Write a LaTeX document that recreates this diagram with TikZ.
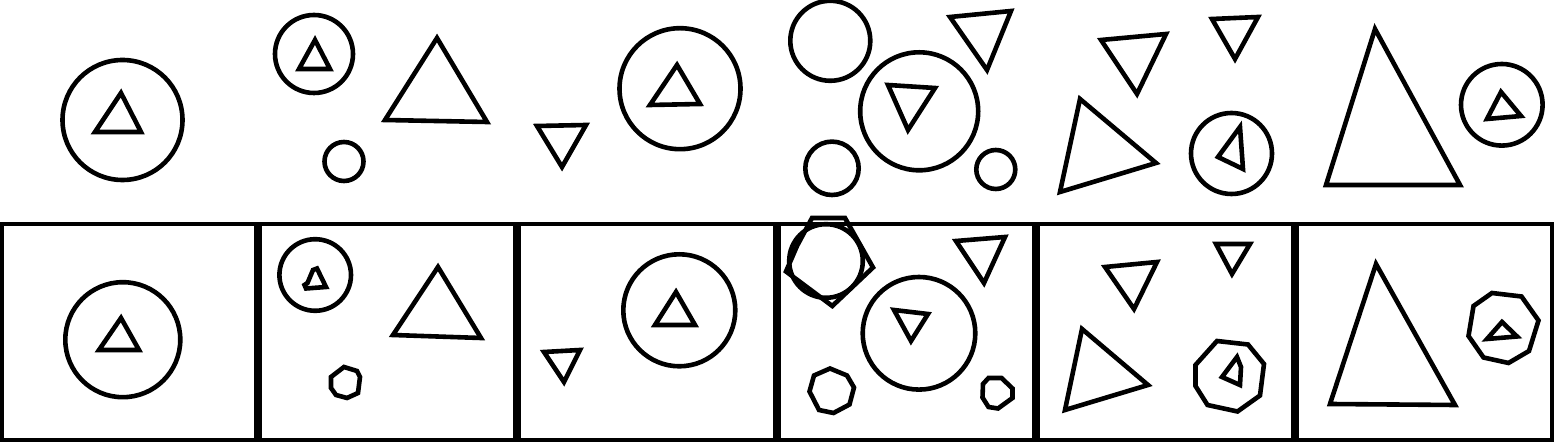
\documentclass[tikz,border=0pt]{standalone}
\usepackage{tikz}
\begin{document}
\begin{tikzpicture}[x=0.5pt,y=-0.5pt,line join=miter,
  fig/.style={line width=2.3pt},
  panel/.style={line width=1.8pt}]
\useasboundingbox (0,0) rectangle (1554,442);
% top row
\draw[fig] (122.5,120) circle[radius=60];
\draw[fig] (121,93) -- (95,132) -- (141,132) -- cycle;
\draw[fig] (314,54) circle[radius=39];
\draw[fig] (315,40) -- (299,69) -- (330,69) -- cycle;
\draw[fig] (437,38) -- (385,120) -- (487,122) -- cycle;
\draw[fig] (344,161.5) circle[radius=19.5];
\draw[fig] (537,126) -- (586,125) -- (562,167) -- cycle;
\draw[fig] (680,88.7) circle[radius=60.5];
\draw[fig] (677,65) -- (650,105) -- (700,104) -- cycle;
\draw[fig] (830.3,40.8) circle[radius=40];
\draw[fig] (950,17) -- (1011,11) -- (987,70) -- cycle;
\draw[fig] (919.2,111.3) circle[radius=59];
\draw[fig] (888,85) -- (935,88) -- (908,130) -- cycle;
\draw[fig] (832,168.3) circle[radius=26.7];
\draw[fig] (995.8,169.5) circle[radius=19.5];
\draw[fig] (1101,40) -- (1166,34) -- (1137,94) -- cycle;
\draw[fig] (1212,19) -- (1258,17) -- (1235,59) -- cycle;
\draw[fig] (1080,99) -- (1060,192) -- (1156,163) -- cycle;
\draw[fig] (1231.5,153.5) circle[radius=40.5];
\draw[fig] (1240,127) -- (1218,157) -- (1243,169) -- cycle;
\draw[fig] (1375,29) -- (1326,185) -- (1460,185) -- cycle;
\draw[fig] (1501.8,104.8) circle[radius=40.8];
\draw[fig] (1501,92) -- (1487,119) -- (1521,116) -- cycle;
% bottom row
\foreach \a/\b in {0/258,258/517,517/777,777/1036,1036/1295,1295/1554}
  \draw[panel] (\a+1.8,223.8) rectangle (\b-1.8,440.2);
% panel 1
\draw[fig] (122.8,339.7) circle[radius=57.5];
\draw[fig] (121,318) -- (99,350) -- (139,350) -- cycle;
% panel 2
\draw[fig] (315.2,275) circle[radius=35.8];
\draw[fig] (313,270) -- (317,268.5) -- (326,287) -- (306,288.5) -- (304.5,285) -- (307.5,283) -- cycle;
\draw[fig] (438,267) -- (393,335) -- (481,338) -- cycle;
\draw[fig] (344,367) -- (357,371) -- (360,377) -- (358,393) -- (347,398)
  -- (336,395) -- (331,388) -- (331,377) -- cycle;
% panel 3
\draw[fig] (544,352) -- (580,350) -- (564,382) -- cycle;
\draw[fig] (679.3,310.3) circle[radius=56];
\draw[fig] (676,292) -- (655,325) -- (695,325) -- cycle;
% panel 4
\draw[fig] (826,261) circle[radius=36.8];
\draw[fig] (812,218) -- (845,218) -- (873,267.5) -- (832.3,306) -- (786,271.5) -- (797,246) -- cycle;
\draw[fig] (956,241) -- (1005,237) -- (984,283) -- cycle;
\draw[fig] (919,333.3) circle[radius=56.3];
\draw[fig] (894,310) -- (928,314) -- (911,341) -- cycle;
\draw[fig] (830,368.5) -- (847,375.5) -- (854,387.5) -- (849.5,404.5) -- (833.5,413)
  -- (819,410) -- (809.5,391.5) -- (814,375.5) -- cycle;
\draw[fig] (988.5,378) -- (1001.5,378) -- (1012.5,388.5) -- (1012.5,398) -- (998,408.5)
  -- (988.5,407) -- (982.5,397.5) -- (983,384) -- cycle;
% panel 5
\draw[fig] (1105,267) -- (1157,262) -- (1134,309) -- cycle;
\draw[fig] (1216,244) -- (1250,244) -- (1232,274) -- cycle;
\draw[fig] (1082,329) -- (1065,410) -- (1148,385) -- cycle;
\draw[fig] (1217,341) -- (1248,344.5) -- (1264,364) -- (1260,395.5) -- (1237.5,411.5)
  -- (1207.5,405) -- (1195.5,386) -- (1195.5,365) -- cycle;
\draw[fig] (1237,357) -- (1241,367) -- (1240,385) -- (1222,377) -- cycle;
% panel 6
\draw[fig] (1376,264) -- (1330,404) -- (1455,405) -- cycle;
\draw[fig] (1492,293) -- (1521.5,296.5) -- (1538.5,320.5) -- (1529,351) -- (1508.5,363)
  -- (1483.5,357.5) -- (1468.5,336) -- (1473.5,306) -- cycle;
\draw[fig] (1502,322) -- (1487,339) -- (1517,336.5) -- cycle;
\end{tikzpicture}
\end{document}
